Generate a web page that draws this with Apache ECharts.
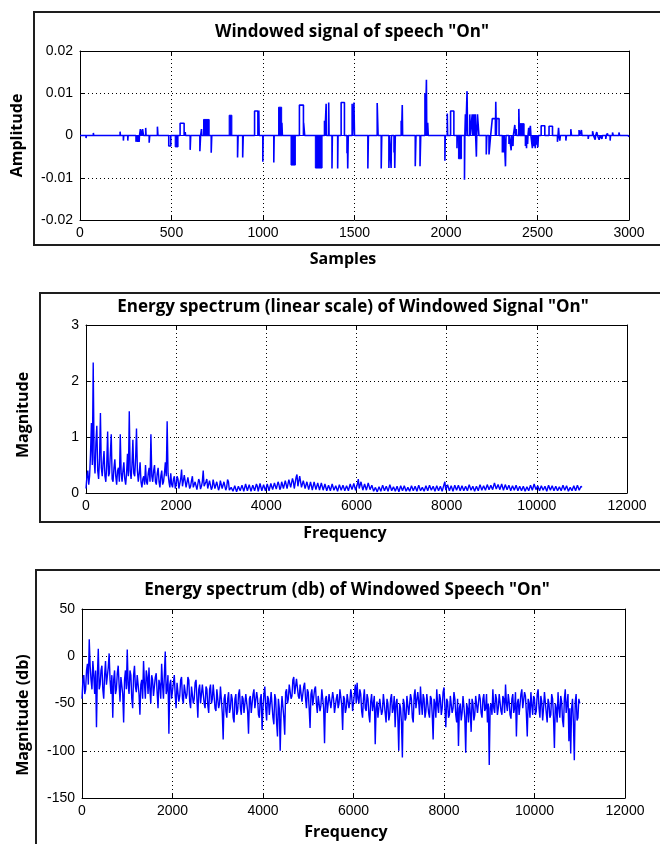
<!DOCTYPE html>
<html>
<head>
<meta charset="utf-8">
<script src="https://cdn.jsdelivr.net/npm/echarts@6/dist/echarts.min.js"></script>
<style>
  html, body { margin: 0; padding: 0; background: #fff; }
  #chart { width: 660px; height: 844px; }
</style>
</head>
<body>
<div id="chart"></div>
<script>
// --- data ---

// windowed speech signal: [startSample, endSample, amplitude] pulses / spikes
const signalEvents = [
  [33, 35, -0.0006], [73, 75, 0.0006], [219, 221, 0.0009], [237, 239, -0.0012],
  [261, 263, -0.0012], [306, 308, -0.0015], [316, 318, -0.0015], [323, 325, -0.0015],
  [330, 332, 0.0015], [336, 338, 0.0012], [342, 347, 0.0015], [359, 361, 0.0018],
  [378, 381, -0.0017], [423, 426, 0.0021], [485, 496, -0.0025], [547, 569, 0.0029],
  [575, 577, 0.0008], [602, 605, -0.0034], [655, 659, -0.0037], [664, 666, 0.0015],
  [717, 720, -0.0041], [861, 864, -0.0052], [889, 892, -0.0052], [954, 972, 0.0058],
  [977, 979, 0.0059], [999, 1001, -0.0062], [1059, 1061, -0.0064], [1103, 1106, 0.003],
  [1199, 1221, 0.0072], [1222, 1228, 0.003], [1336, 1338, 0.0035], [1345, 1347, 0.0075],
  [1359, 1361, 0.0078], [1377, 1379, -0.0078], [1408, 1410, -0.0078], [1427, 1445, 0.0078],
  [1459, 1461, -0.0042], [1463, 1466, -0.0078], [1487, 1489, 0.0075], [1497, 1500, 0.0078],
  [1573, 1576, -0.0078], [1624, 1629, 0.0077], [1646, 1649, -0.0078], [1688, 1690, -0.0077],
  [1700, 1702, -0.0077], [1716, 1718, -0.004], [1720, 1723, -0.0077], [1755, 1757, 0.0035],
  [1761, 1763, 0.0072], [1832, 1836, -0.0073], [1858, 1862, -0.0073], [1885, 1887, 0.01],
  [1893, 1895, 0.0132], [1900, 1903, 0.003], [1994, 1996, -0.006], [2007, 2009, 0.0052],
  [2025, 2043, 0.0058], [2060, 2062, -0.003], [2101, 2103, -0.0105], [2106, 2108, 0.005],
  [2115, 2118, 0.0105], [2130, 2133, 0.005], [2143, 2146, 0.005], [2152, 2155, 0.005],
  [2160, 2162, 0.005], [2166, 2168, -0.005], [2172, 2180, 0.005], [2220, 2223, -0.0045],
  [2235, 2244, -0.0045], [2253, 2270, 0.004], [2272, 2275, 0.008], [2277, 2290, 0.004],
  [2308, 2311, -0.004], [2316, 2318, -0.004], [2325, 2328, -0.0073], [2344, 2346, -0.002],
  [2356, 2358, -0.0035], [2366, 2368, -0.0025], [2376, 2380, 0.0025], [2384, 2386, 0.0015],
  [2398, 2401, 0.0063], [2434, 2437, -0.0025], [2440, 2442, -0.003], [2446, 2448, -0.002],
  [2452, 2455, 0.0018], [2461, 2464, 0.0023], [2472, 2474, -0.003], [2480, 2482, -0.0025],
  [2488, 2490, -0.003], [2495, 2497, -0.0022], [2502, 2505, -0.0028], [2520, 2540, 0.0023],
  [2563, 2582, 0.0022], [2609, 2612, -0.0015], [2615, 2618, 0.0018], [2622, 2625, -0.0012],
  [2655, 2658, -0.0012], [2682, 2686, 0.0015], [2727, 2730, 0.0013], [2740, 2743, 0.0013],
  [2777, 2780, -0.0008], [2801, 2806, 0.001], [2815, 2818, -0.001], [2824, 2828, 0.0008],
  [2837, 2842, -0.001], [2852, 2855, -0.0008], [2873, 2876, -0.0008], [2882, 2885, 0.0005],
  [2897, 2899, -0.0012], [2910, 2914, 0.0007], [2945, 2949, 0.0007], [2995, 3000, -0.0003],
];

// dense stretches of the signal that render as solid blocks
const signalBlocks = [
  [520, 536, -0.0027], [675, 706, 0.0038], [815, 830, 0.0048], [1085, 1102, 0.0067],
  [1153, 1177, -0.007], [1286, 1323, -0.0077], [2068, 2085, -0.0055], [2404, 2427, 0.0028],
];

// spectra sampled every FREQ_STEP Hz, 0 .. 11000 (one row = 400 Hz)
const FREQ_STEP = 20;

const spectrumLinear = [
  0.08, 0.3, 0.4, 0.15, 0.3, 0.7, 1.25, 0.5, 2.33, 0.6, 0.35, 0.9, 1.2, 0.4, 0.25, 0.6, 1.43, 0.45, 0.3, 0.55,
  0.75, 0.3, 0.2, 0.5, 1.1, 0.3, 0.35, 0.7, 1.05, 0.25, 0.2, 0.45, 0.6, 0.3, 0.15, 0.4, 0.45, 0.2, 1.05, 0.35,
  0.2, 0.4, 0.55, 0.25, 0.15, 0.35, 0.7, 0.3, 1.46, 0.4, 0.25, 0.5, 0.95, 0.35, 0.3, 0.6, 1.15, 0.4, 0.2, 0.35,
  0.55, 0.2, 0.1, 0.25, 0.3, 0.15, 0.5, 0.2, 0.15, 0.35, 0.45, 0.2, 1.05, 0.3, 0.2, 0.4, 0.5, 0.2, 0.15, 0.35,
  0.45, 0.2, 0.1, 0.3, 0.4, 0.15, 0.2, 0.35, 0.55, 0.3, 1.28, 0.35, 0.2, 0.1, 0.35, 0.15, 0.1, 0.25, 0.3, 0.08,
  0.15, 0.3, 0.25, 0.08, 0.1, 0.25, 0.42, 0.12, 0.15, 0.32, 0.3, 0.1, 0.1, 0.28, 0.25, 0.08, 0.12, 0.22, 0.3, 0.1,
  0.1, 0.2, 0.22, 0.06, 0.08, 0.25, 0.2, 0.07, 0.12, 0.2, 0.4, 0.12, 0.1, 0.2, 0.25, 0.08, 0.08, 0.22, 0.2, 0.06,
  0.1, 0.24, 0.22, 0.08, 0.06, 0.2, 0.18, 0.05, 0.1, 0.22, 0.2, 0.08, 0.06, 0.2, 0.18, 0.05, 0.1, 0.24, 0.2, 0.05,
  0.04, 0.1, 0.12, 0.03, 0.05, 0.13, 0.1, 0.02, 0.04, 0.12, 0.15, 0.04, 0.06, 0.14, 0.12, 0.03, 0.05, 0.16, 0.18, 0.04,
  0.06, 0.15, 0.12, 0.03, 0.04, 0.14, 0.15, 0.04, 0.05, 0.16, 0.12, 0.03, 0.06, 0.17, 0.2, 0.04, 0.05, 0.15, 0.12, 0.04,
  0.06, 0.16, 0.15, 0.04, 0.05, 0.17, 0.18, 0.06, 0.08, 0.18, 0.2, 0.07, 0.06, 0.2, 0.15, 0.06, 0.1, 0.2, 0.22, 0.08,
  0.08, 0.22, 0.2, 0.08, 0.1, 0.24, 0.25, 0.1, 0.12, 0.26, 0.2, 0.08, 0.1, 0.28, 0.33, 0.12, 0.12, 0.3, 0.28, 0.1,
  0.1, 0.22, 0.25, 0.08, 0.08, 0.2, 0.2, 0.06, 0.06, 0.2, 0.18, 0.05, 0.08, 0.2, 0.22, 0.06, 0.05, 0.18, 0.15, 0.05,
  0.08, 0.18, 0.2, 0.05, 0.06, 0.16, 0.15, 0.04, 0.05, 0.14, 0.12, 0.04, 0.06, 0.16, 0.15, 0.05, 0.04, 0.13, 0.12, 0.03,
  0.05, 0.15, 0.18, 0.05, 0.06, 0.14, 0.15, 0.04, 0.04, 0.13, 0.12, 0.04, 0.06, 0.16, 0.18, 0.06, 0.08, 0.17, 0.15, 0.05,
  0.06, 0.16, 0.25, 0.08, 0.08, 0.2, 0.18, 0.05, 0.05, 0.16, 0.15, 0.05, 0.08, 0.18, 0.2, 0.06, 0.05, 0.14, 0.12, 0.03,
  0.04, 0.1, 0.1, 0.02, 0.03, 0.11, 0.12, 0.03, 0.05, 0.14, 0.15, 0.04, 0.04, 0.12, 0.1, 0.03, 0.06, 0.15, 0.14, 0.04,
  0.03, 0.11, 0.12, 0.03, 0.05, 0.12, 0.1, 0.02, 0.04, 0.13, 0.15, 0.04, 0.05, 0.13, 0.12, 0.03, 0.03, 0.1, 0.1, 0.03,
  0.05, 0.13, 0.14, 0.04, 0.04, 0.12, 0.12, 0.03, 0.06, 0.14, 0.15, 0.04, 0.03, 0.1, 0.1, 0.03, 0.05, 0.13, 0.13, 0.04,
  0.04, 0.14, 0.16, 0.05, 0.05, 0.12, 0.12, 0.03, 0.04, 0.13, 0.14, 0.04, 0.06, 0.12, 0.1, 0.03, 0.04, 0.15, 0.2, 0.05,
  0.06, 0.15, 0.14, 0.04, 0.05, 0.13, 0.12, 0.03, 0.04, 0.14, 0.15, 0.05, 0.06, 0.14, 0.12, 0.04, 0.05, 0.13, 0.14, 0.04,
  0.04, 0.12, 0.12, 0.04, 0.06, 0.15, 0.15, 0.05, 0.05, 0.12, 0.1, 0.03, 0.04, 0.12, 0.13, 0.04, 0.06, 0.15, 0.15, 0.05,
  0.05, 0.13, 0.12, 0.05, 0.06, 0.15, 0.16, 0.06, 0.05, 0.14, 0.14, 0.06, 0.07, 0.18, 0.2, 0.07, 0.06, 0.15, 0.15, 0.06,
  0.08, 0.16, 0.13, 0.05, 0.05, 0.15, 0.16, 0.06, 0.07, 0.14, 0.12, 0.04, 0.04, 0.13, 0.15, 0.05, 0.06, 0.14, 0.12, 0.04,
  0.04, 0.12, 0.14, 0.04, 0.05, 0.12, 0.1, 0.03, 0.03, 0.11, 0.12, 0.04, 0.05, 0.14, 0.15, 0.05, 0.06, 0.16, 0.18, 0.06,
  0.05, 0.13, 0.12, 0.04, 0.04, 0.13, 0.14, 0.05, 0.06, 0.12, 0.1, 0.03, 0.04, 0.14, 0.15, 0.05, 0.05, 0.13, 0.12, 0.04,
  0.05, 0.12, 0.13, 0.04, 0.04, 0.11, 0.1, 0.04, 0.05, 0.14, 0.15, 0.05, 0.06, 0.13, 0.12, 0.03, 0.03, 0.1, 0.1, 0.04,
  0.05, 0.13, 0.14, 0.04, 0.04, 0.14, 0.15, 0.05, 0.06, 0.12, 0.1,
];

const spectrumDb = [
  -45, -25, -20, -40, -35, -15, -8, -30, 18, -10, -25, -35, -5, -20, -40, -15, -75, -20, 8, -35,
  -30, -15, -10, -35, -45, -20, -5, -30, -28, -12, 3, -25, -40, -20, -65, -25, -15, -40, -35, -18,
  -10, -30, -48, -22, -20, -40, -70, -25, -15, -35, 7, -30, -40, -15, -20, -45, -55, -20, -10, -32,
  -38, -20, -18, -40, -62, -30, -25, -45, -5, -28, -45, -15, -22, -40, -12, -35, -50, -20, -25, -42,
  -40, -22, -18, -38, -55, -25, -30, -45, -8, -30, -45, -20, 5, -40, -35, -20, -82, -30, -25, -45,
  -45, -28, -20, -42, -55, -28, -30, -48, -42, -25, -22, -45, -50, -30, -28, -45, -40, -22, -25, -48,
  -55, -32, -30, -50, -45, -28, -25, -45, -65, -35, -30, -50, -48, -30, -28, -50, -55, -32, -35, -52,
  -60, -35, -30, -50, -45, -30, -32, -55, -58, -35, -35, -55, -50, -32, -30, -60, -88, -45, -40, -58,
  -65, -45, -38, -60, -55, -40, -45, -65, -70, -45, -40, -62, -58, -40, -35, -55, -62, -42, -45, -60,
  -50, -40, -38, -58, -82, -45, -42, -60, -60, -40, -35, -55, -55, -38, -45, -62, -65, -45, -40, -78,
  -55, -40, -32, -55, -68, -42, -45, -62, -60, -38, -40, -65, -72, -40, -45, -70, -85, -45, -55, -100,
  -60, -42, -40, -65, -83, -38, -35, -50, -45, -30, -28, -45, -42, -25, -22, -40, -38, -24, -25, -42,
  -45, -30, -30, -48, -50, -32, -28, -45, -55, -35, -38, -55, -76, -40, -35, -52, -50, -35, -32, -50,
  -60, -42, -40, -58, -52, -35, -35, -55, -92, -45, -42, -60, -58, -40, -38, -55, -55, -38, -45, -60,
  -62, -45, -40, -55, -50, -35, -35, -52, -78, -42, -45, -60, -55, -40, -38, -55, -48, -35, -42, -58,
  -60, -40, -30, -50, -28, -45, -50, -35, -40, -58, -65, -45, -35, -55, -58, -40, -45, -62, -70, -48,
  -40, -58, -60, -42, -93, -55, -48, -65, -65, -45, -45, -62, -58, -40, -38, -60, -70, -45, -50, -68,
  -62, -45, -40, -60, -55, -42, -75, -50, -45, -65, -100, -50, -55, -70, -107, -45, -50, -68, -65, -42,
  -40, -62, -60, -40, -45, -65, -70, -42, -35, -55, -55, -38, -48, -62, -32, -50, -62, -40, -45, -65,
  -58, -40, -38, -60, -65, -42, -45, -62, -88, -45, -50, -65, -35, -52, -60, -40, -45, -62, -55, -38,
  -33, -55, -75, -45, -48, -65, -62, -42, -40, -60, -55, -38, -45, -62, -70, -45, -95, -55, -50, -68,
  -60, -42, -40, -65, -102, -50, -55, -70, -45, -60, -80, -45, -50, -68, -62, -42, -40, -60, -58, -40,
  -45, -60, -65, -45, -40, -58, -55, -40, -70, -50, -115, -55, -50, -62, -35, -55, -60, -40, -45, -62,
  -55, -40, -38, -58, -62, -42, -45, -60, -30, -50, -58, -40, -48, -62, -66, -45, -40, -60, -55, -38,
  -85, -50, -45, -62, -60, -40, -35, -55, -55, -38, -42, -60, -85, -45, -50, -65, -38, -52, -62, -42,
  -45, -62, -58, -40, -35, -55, -65, -42, -48, -68, -55, -38, -40, -60, -70, -45, -50, -65, -62, -40,
  -45, -65, -97, -50, -55, -70, -38, -55, -65, -42, -48, -68, -75, -45, -35, -60, -58, -40, -90, -55,
  -103, -55, -45, -70, -110, -48, -40, -68, -65, -45, -50,
];

// --- build series data ---

function pulsesToPoints(pulses, x0, x1) {
  const pts = [[x0, 0]];
  pulses.forEach(([s1, s2, v]) => {
    pts.push([s1, 0], [s1, v], [s2, v], [s2, 0]);
  });
  pts.push([x1, 0]);
  return pts;
}

const signalLine = pulsesToPoints(signalEvents, 0, 3000);
const signalFill = pulsesToPoints(signalBlocks, 0, 3000);
const linearPoints = spectrumLinear.map((v, i) => [i * FREQ_STEP, v]);
const dbPoints = spectrumDb.map((v, i) => [i * FREQ_STEP, v]);

// --- styling ---

const BLUE = '#0000ff';
const LABEL_FONT = { fontFamily: 'Liberation Sans', fontSize: 14, color: '#000' };
const NAME_FONT = { fontFamily: 'Open Sans', fontWeight: 'bold', fontSize: 16, color: '#000' };
const GRIDS = [
  { left: 80, top: 51, width: 549, height: 169 },
  { left: 86, top: 325, width: 541, height: 168 },
  { left: 82, top: 609, width: 543, height: 189 },
];

function fmt(v) {
  return String(+v.toFixed(4));
}

function mainAxis(dim, gridIndex, range, name, nameGap, shift) {
  return {
    type: 'value',
    gridIndex,
    position: dim === 'x' ? 'bottom' : 'left',
    min: range[0],
    max: range[1],
    interval: range[2],
    name,
    nameLocation: 'middle',
    nameGap,
    nameRotate: dim === 'y' ? 90 : 0,
    nameTextStyle: { ...NAME_FONT, padding: [0, shift * 2, 0, 0] },
    axisLine: { show: true, onZero: false, lineStyle: { color: '#000', width: 1 } },
    axisTick: { show: true, inside: true, length: 5, lineStyle: { color: '#000' } },
    axisLabel: { ...LABEL_FONT, margin: dim === 'x' ? 6 : 7, formatter: fmt },
    splitLine: { show: true, lineStyle: { color: '#000', type: [1, 3], width: 1 } },
  };
}

function mirrorAxis(dim, gridIndex, range) {
  return {
    type: 'value',
    gridIndex,
    position: dim === 'x' ? 'top' : 'right',
    min: range[0],
    max: range[1],
    interval: range[2],
    axisLine: { show: true, onZero: false, lineStyle: { color: '#000', width: 1 } },
    axisTick: { show: true, inside: true, length: 5, lineStyle: { color: '#000' } },
    axisLabel: { show: false },
    splitLine: { show: false },
  };
}

const X_RANGES = [[0, 3000, 500], [0, 12000, 2000], [0, 12000, 2000]];
const Y_RANGES = [[-0.02, 0.02, 0.01], [0, 3, 1], [-150, 50, 50]];

function lineSeries(gridIndex, data, extra) {
  return {
    type: 'line',
    xAxisIndex: gridIndex,
    yAxisIndex: gridIndex,
    data,
    showSymbol: false,
    symbol: 'none',
    animation: false,
    silent: true,
    lineStyle: { color: BLUE, width: 1.4 },
    ...extra,
  };
}

function frame(x, y, w, h) {
  return {
    type: 'rect',
    silent: true,
    shape: { x, y, width: w, height: h },
    style: { fill: 'none', stroke: '#1e1e1e', lineWidth: 2 },
  };
}

function heading(x, y, text) {
  return {
    type: 'text',
    silent: true,
    x,
    y,
    style: {
      text,
      align: 'center',
      verticalAlign: 'middle',
      fontFamily: 'Open Sans',
      fontWeight: 'bold',
      fontSize: 17,
      fill: '#000',
    },
  };
}

const option = {
  animation: false,
  backgroundColor: '#fff',
  grid: GRIDS.map((g) => ({
    ...g,
    show: false,
    containLabel: false,
    outerBoundsMode: 'none',
  })),
  xAxis: [
    mainAxis('x', 0, X_RANGES[0], 'Samples', 31, 11.5),
    mainAxis('x', 1, X_RANGES[1], 'Frequency', 32, 11.5),
    mainAxis('x', 2, X_RANGES[2], 'Frequency', 26, 7.5),
    mirrorAxis('x', 0, X_RANGES[0]),
    mirrorAxis('x', 1, X_RANGES[1]),
    mirrorAxis('x', 2, X_RANGES[2]),
  ],
  yAxis: [
    mainAxis('y', 0, Y_RANGES[0], 'Amplitude', 55, 0),
    mainAxis('y', 1, Y_RANGES[1], 'Magnitude', 55, 6),
    mainAxis('y', 2, Y_RANGES[2], 'Magnitude (db)', 51, 11.5),
    mirrorAxis('y', 0, Y_RANGES[0]),
    mirrorAxis('y', 1, Y_RANGES[1]),
    mirrorAxis('y', 2, Y_RANGES[2]),
  ],
  graphic: [
    frame(34, 12, 640, 233),
    frame(40, 293, 640, 229),
    frame(36, 570, 640, 300),
    heading(352, 32, 'Windowed signal of speech "On"'),
    heading(353, 307, 'Energy spectrum (linear scale) of Windowed Signal "On"'),
    heading(347, 590, 'Energy spectrum (db) of Windowed Speech "On"'),
  ],
  series: [
    lineSeries(0, signalLine, { lineStyle: { color: BLUE, width: 1.6 } }),
    lineSeries(0, signalFill, {
      lineStyle: { color: BLUE, width: 1 },
      areaStyle: { color: BLUE, opacity: 1 },
    }),
    lineSeries(1, linearPoints),
    lineSeries(2, dbPoints),
  ],
};

const chart = echarts.init(document.getElementById('chart'), null, { renderer: 'canvas' });
chart.setOption(option);
</script>
</body>
</html>
